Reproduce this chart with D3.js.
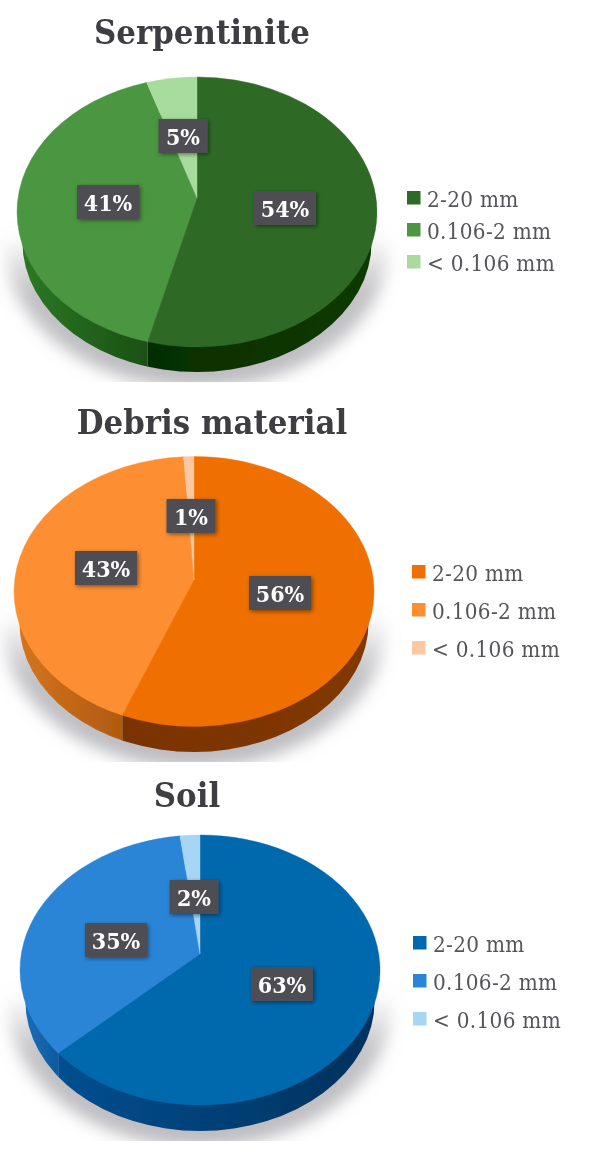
<!DOCTYPE html>
<html>
<head>
<meta charset="utf-8">
<script src="https://cdn.jsdelivr.net/npm/d3@7"></script>
<style>
  html, body { margin: 0; padding: 0; background: #fff; }
  svg { display: block; }
  text { font-family: "DejaVu Serif", serif; }
  .title { font-weight: bold; font-stretch: condensed; fill: #3c3c42; text-anchor: middle; }
  .legend-label { fill: #55555a; font-stretch: condensed; }
  .pct { font-weight: bold; font-stretch: condensed; fill: #fff; text-anchor: middle; dominant-baseline: central; }
</style>
</head>
<body>
<script>
// grain size classes, clockwise from 12 o'clock
const categories = ['2-20 mm', '0.106-2 mm', '< 0.106 mm'];

const titles = ['Serpentinite', 'Debris material', 'Soil'];
const serpentiniteValues = [54, 41, 5];
const debrisValues = [56, 43, 1];
const soilValues = [63, 35, 2];

const greens = ['#2e6b26', '#4c9641', '#a8dc9d'];
const oranges = ['#ef7000', '#fd8f32', '#fbc8a0'];
const blues = ['#0569ae', '#2b85d6', '#a6d6f3'];

// side wall colours as [left end, right end] of each visible slice
const greenSides = [['#062e02', '#0b3a05'], ['#2c7a26', '#1a5013'], ['#2c7a26', '#2c7a26']];
const orangeSides = [['#7a3300', '#803800'], ['#d6751f', '#b05a10'], ['#d6751f', '#d6751f']];
const blueSides = [['#064f90', '#03305c'], ['#1a6fbe', '#0f5a9e'], ['#1a6fbe', '#1a6fbe']];

const W = 589, H = 1149;

const layouts = [
  {cx: 197, cy: 212, apexY: 198, rx: 180, ry: 135, bottom: 372, titleX: 202, titleY: 44,
   legendX: 407, legendY: [198, 230, 262], labels: [[285, 208], [108, 202], [183, 136]]},
  {cx: 194, cy: 591.5, apexY: 580, rx: 180, ry: 135, bottom: 752, titleX: 212, titleY: 434,
   legendX: 412, legendY: [572, 610, 648], labels: [[280, 593], [106, 568], [191, 516]]},
  {cx: 200, cy: 970, apexY: 954, rx: 180, ry: 135, bottom: 1131, titleX: 187, titleY: 807,
   legendX: 413, legendY: [943, 981, 1019], labels: [[282, 984], [116, 940], [194, 897]]}
];

const svg = d3.select('body').append('svg')
  .attr('width', W)
  .attr('height', H)
  .attr('viewBox', `0 0 ${W} ${H}`);

const defs = svg.append('defs');

defs.append('filter').attr('id', 'soft')
  .attr('x', '-20%').attr('y', '-20%').attr('width', '140%').attr('height', '140%')
  .append('feGaussianBlur').attr('stdDeviation', 8);

// the source is a slightly soft raster
defs.append('filter').attr('id', 'page-soft')
  .attr('filterUnits', 'userSpaceOnUse')
  .attr('x', 0).attr('y', 0).attr('width', W).attr('height', H)
  .append('feGaussianBlur').attr('stdDeviation', 0.4);

const boxShadow = defs.append('filter').attr('id', 'box-shadow')
  .attr('x', '-30%').attr('y', '-30%').attr('width', '170%').attr('height', '170%');
boxShadow.append('feDropShadow')
  .attr('dx', 1.5).attr('dy', 1.5).attr('stdDeviation', 2)
  .attr('flood-color', '#000').attr('flood-opacity', 0.45);

const shadowFade = defs.append('linearGradient').attr('id', 'shadow-fade')
  .attr('x1', 0).attr('x2', 0).attr('y1', 0).attr('y2', 1);
shadowFade.append('stop').attr('offset', 0.46).attr('stop-color', '#bcbcc0').attr('stop-opacity', 0);
shadowFade.append('stop').attr('offset', 0.66).attr('stop-color', '#bcbcc0').attr('stop-opacity', 0.9);
shadowFade.append('stop').attr('offset', 1).attr('stop-color', '#bcbcc0').attr('stop-opacity', 1);

const root = svg.append('g').attr('filter', 'url(#page-soft)');

function ellipsePoint(e, angle, beta) {
  // a circle seen in perspective: the centre lands beta above the ellipse centre
  const x = Math.sin(angle), y = Math.cos(angle);
  const d = 1 + beta * y;
  return [
    e.cx + e.rx * x * Math.sqrt(1 - beta * beta) / d,
    e.cy - e.ry * (y + beta) / d
  ];
}

function drawPanel(i, values, colors, sideColors) {
  const l = layouts[i];
  const top = {cx: l.cx, cy: l.cy, rx: l.rx, ry: l.ry};
  const beta = (l.cy - l.apexY) / l.ry;
  const ry2 = l.ry * 0.965;
  const base = {cx: l.cx, cy: l.bottom - ry2, rx: l.rx * 0.97, ry: ry2};
  const g = root.append('g').attr('class', 'panel');

  const slices = d3.pie().sort(null)(values);

  // soft ground shadow, cut off flat at the bottom like the original
  defs.append('clipPath').attr('id', 'shadow-clip-' + i)
    .append('rect')
    .attr('x', 0).attr('y', l.cy - 10)
    .attr('width', W).attr('height', l.bottom + 10 - l.cy + 10);
  g.append('g').attr('clip-path', `url(#shadow-clip-${i})`)
    .append('ellipse')
    .attr('cx', l.cx).attr('cy', base.cy + 4)
    .attr('rx', l.rx + 12).attr('ry', ry2 + 12)
    .attr('fill', 'url(#shadow-fade)')
    .attr('filter', 'url(#soft)');

  // side wall: the lower ellipse, cut by slice along vertical edges
  const rightEnd = Math.PI / 2, leftEnd = 3 * Math.PI / 2;
  slices.forEach((s, j) => {
    const a0 = Math.max(s.startAngle, rightEnd);
    const a1 = Math.min(s.endAngle, leftEnd);
    if (a1 <= a0) return;
    const x0 = a1 >= leftEnd ? 0 : ellipsePoint(top, a1, beta)[0];
    const x1 = a0 <= rightEnd ? W : ellipsePoint(top, a0, beta)[0];
    const gradId = `side-${i}-${j}`;
    const grad = defs.append('linearGradient').attr('id', gradId)
      .attr('gradientUnits', 'userSpaceOnUse')
      .attr('x1', Math.max(x0, l.cx - l.rx)).attr('x2', Math.min(x1, l.cx + l.rx))
      .attr('y1', 0).attr('y2', 0);
    grad.append('stop').attr('offset', 0).attr('stop-color', sideColors[j][0]);
    grad.append('stop').attr('offset', 1).attr('stop-color', sideColors[j][1]);
    const clipId = `side-clip-${i}-${j}`;
    defs.append('clipPath').attr('id', clipId)
      .append('rect').attr('x', x0).attr('y', 0).attr('width', x1 - x0).attr('height', H);
    g.append('ellipse')
      .attr('clip-path', `url(#${clipId})`)
      .attr('cx', base.cx).attr('cy', base.cy)
      .attr('rx', base.rx).attr('ry', base.ry)
      .attr('fill', `url(#${gradId})`);
  });

  // top face, wedges meet at the apex which sits above the ellipse centre
  g.selectAll('path.slice').data(slices).join('path')
    .attr('class', 'slice')
    .attr('fill', (d, j) => colors[j])
    .attr('stroke', (d, j) => colors[j])
    .attr('stroke-width', 0.4)
    .attr('d', d => {
      const p = d3.path();
      const [x0, y0] = ellipsePoint(top, d.startAngle, beta);
      const [x1, y1] = ellipsePoint(top, d.endAngle, beta);
      const large = (d.endAngle - d.startAngle > Math.PI) ? 1 : 0;
      p.moveTo(l.cx, l.apexY);
      p.lineTo(x0, y0);
      return p.toString() + `A${l.rx},${l.ry} 0 ${large} 1 ${x1},${y1}Z`;
    });

  // percent tags
  const tags = g.selectAll('g.tag').data(slices).join('g')
    .attr('class', 'tag')
    .attr('transform', (d, j) => `translate(${l.labels[j][0]},${l.labels[j][1]})`);
  tags.append('rect')
    .attr('x', d => d.value < 10 ? -24.5 : -31)
    .attr('y', -17)
    .attr('width', d => d.value < 10 ? 49 : 62)
    .attr('height', 34)
    .attr('fill', '#4e4e52')
    .attr('filter', 'url(#box-shadow)');
  tags.append('text')
    .attr('class', 'pct')
    .attr('font-size', 23)
    .text(d => d.value + '%');

  g.append('text')
    .attr('class', 'title')
    .attr('x', l.titleX)
    .attr('y', l.titleY)
    .attr('font-size', 34.3)
    .text(titles[i]);

  // legend
  const legend = g.selectAll('g.legend').data(categories).join('g')
    .attr('class', 'legend')
    .attr('transform', (d, j) => `translate(${l.legendX},${l.legendY[j]})`);
  legend.append('rect')
    .attr('x', 0).attr('y', -7).attr('width', 13.5).attr('height', 13.5)
    .attr('fill', (d, j) => colors[j]);
  legend.append('text')
    .attr('class', 'legend-label')
    .attr('x', 20)
    .attr('y', 9)
    .attr('font-size', 22.3)
    .attr('letter-spacing', 0.3)
    .text(d => d);
}

drawPanel(0, serpentiniteValues, greens, greenSides);
drawPanel(1, debrisValues, oranges, orangeSides);
drawPanel(2, soilValues, blues, blueSides);
</script>
</body>
</html>
